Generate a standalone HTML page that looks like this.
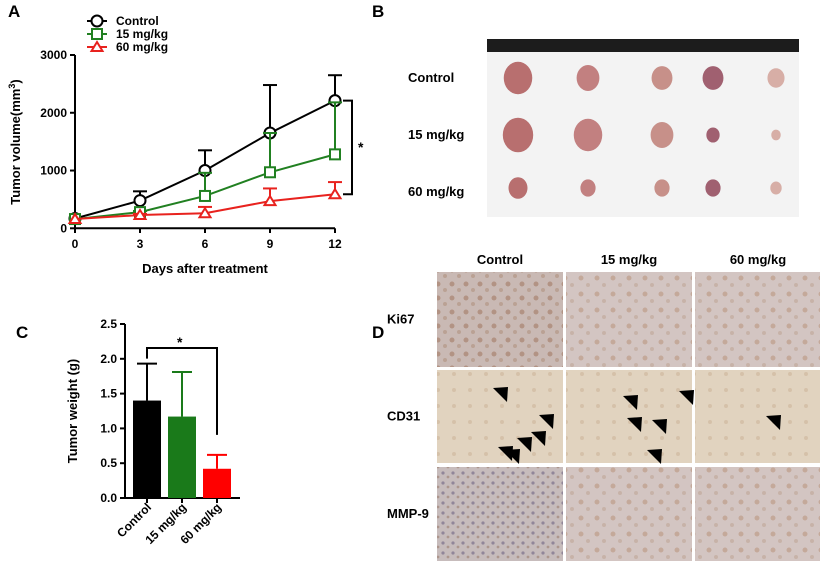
<!DOCTYPE html>
<html><head><meta charset="utf-8"><style>
body{margin:0;background:#fff;}
svg{display:block;font-family:"Liberation Sans",Arial,sans-serif;font-weight:bold;}
</style></head><body>
<svg id="fig" width="825" height="568" viewBox="0 0 825 568">
<defs>
<pattern id="texA" width="14" height="14" patternUnits="userSpaceOnUse"><rect width="14" height="14" fill="#c9b9b4"/><circle cx="4" cy="4" r="2.5" fill="#a88470" opacity="0.7"/><circle cx="11" cy="10" r="2" fill="#b0917f" opacity="0.6"/></pattern>
<pattern id="texB" width="16" height="16" patternUnits="userSpaceOnUse"><rect width="16" height="16" fill="#d3c5c2"/><circle cx="5" cy="6" r="2.5" fill="#b8927a" opacity="0.55"/><circle cx="12" cy="13" r="2" fill="#bba08e" opacity="0.5"/></pattern>
<pattern id="texC" width="16" height="16" patternUnits="userSpaceOnUse"><rect width="16" height="16" fill="#e1d3bf"/><circle cx="6" cy="6" r="2" fill="#cdb59b" opacity="0.6"/></pattern>
<pattern id="texD" width="10" height="10" patternUnits="userSpaceOnUse"><rect width="10" height="10" fill="#c7bcbc"/><circle cx="3" cy="3" r="1.6" fill="#6d6282" opacity="0.6"/><circle cx="8" cy="7" r="1.4" fill="#9b7d6e" opacity="0.6"/></pattern>
</defs>
<g id="panelA"></g>
<g id="panelB"></g>
<g id="panelC"></g>
<g id="panelD"></g>
</svg>
<script>
const days=[0,3,6,9,12];
const yTicksA=[0,1000,2000,3000];
const controlVol=[170,480,1000,1650,2210];
const controlErr=[170,640,1350,2480,2650];
const lowVol=[160,280,560,970,1280];
const lowErr=[160,300,960,1650,2180];
const highVol=[160,230,260,470,590];
const highErr=[160,250,370,690,800];
const groups=["Control","15 mg/kg","60 mg/kg"];
const weights=[1.4,1.17,0.42];
const weightErr=[1.93,1.81,0.62];
const yTicksC=[0.0,0.5,1.0,1.5,2.0,2.5];

const NS="http://www.w3.org/2000/svg";
function mk(tag,attrs,parent,text){const e=document.createElementNS(NS,tag);for(const k in attrs)e.setAttribute(k,attrs[k]);if(text!==undefined)e.textContent=text;parent.appendChild(e);return e;}

// Panel A
const A=document.getElementById('panelA');
const xA=d=>75+d*(260/12), yA=v=>228.3-v*(173.3/3000);
let t=mk('text',{x:8,y:17,'font-size':17},A,'A');


let ax=mk('path',{d:`M75 ${yA(3000)} V228.3 H335`,stroke:'#000','stroke-width':2,fill:'none'},A);


yTicksA.forEach(v=>{mk('line',{x1:70,x2:75,y1:yA(v),y2:yA(v),stroke:'#000','stroke-width':2},A);
 const l=mk('text',{x:67,y:yA(v)+4,'font-size':12,'text-anchor':'end'},A,v);
 
 });
days.forEach(d=>{mk('line',{x1:xA(d),x2:xA(d),y1:228.3,y2:233,stroke:'#000','stroke-width':2},A);
 const l=mk('text',{x:xA(d),y:248,'font-size':12,'text-anchor':'middle'},A,d);
 
 });
t=mk('text',{x:205,y:273,'font-size':13,'text-anchor':'middle'},A,'Days after treatment');


t=mk('text',{x:0,y:0,'font-size':13,'text-anchor':'middle',transform:'translate(20,142) rotate(-90)'},A);
t.innerHTML='Tumor volume(mm<tspan dy="-5" font-size="9">3</tspan><tspan dy="5">)</tspan>';


const series=[[controlVol,controlErr,'#000','circle','Control'],[lowVol,lowErr,'#218021','square','15 mg/kg'],[highVol,highErr,'#e8221e','tri','60 mg/kg']];
function marker(g,type,x,y,c){
 if(type==='circle')return mk('circle',{cx:x,cy:y,r:5.5,fill:'#fff',stroke:c,'stroke-width':2},g);
 if(type==='square')return mk('rect',{x:x-5,y:y-5,width:10,height:10,fill:'#fff',stroke:c,'stroke-width':2},g);
 return mk('path',{d:`M${x} ${y-5} L${x+5.5} ${y+4} L${x-5.5} ${y+4}Z`,fill:'#fff',stroke:c,'stroke-width':2},g);}
series.forEach((s,i)=>{
 const g=mk('g',{},A);
 
 
 days.forEach((d,j)=>{if(s[1][j]>s[0][j]+10){mk('line',{x1:xA(d),x2:xA(d),y1:yA(s[0][j]),y2:yA(s[1][j]),stroke:s[2],'stroke-width':2},g);
  mk('line',{x1:xA(d)-7,x2:xA(d)+7,y1:yA(s[1][j]),y2:yA(s[1][j]),stroke:s[2],'stroke-width':2},g);}});
 mk('polyline',{points:days.map((d,j)=>xA(d)+','+yA(s[0][j])).join(' '),fill:'none',stroke:s[2],'stroke-width':2},g);
 days.forEach((d,j)=>{const m=marker(g,s[3],xA(d),yA(s[0][j]),s[2]);
  
  });
 const lg=mk('g',{},A);
 
 
 const ly=21+i*13;
 mk('line',{x1:87,x2:107,y1:ly,y2:ly,stroke:s[2],'stroke-width':2},lg);
 marker(lg,s[3],97,ly,s[2]);
 mk('text',{x:116,y:ly+4,'font-size':12},lg,s[4]);
});
let br=mk('path',{d:`M343 ${yA(2210)} H352 V${yA(590)} H343`,fill:'none',stroke:'#000','stroke-width':2},A);


mk('text',{x:358,y:152,'font-size':14},A,'*');

// Panel B
const B=document.getElementById('panelB');
mk('text',{x:372,y:17,'font-size':17},B,'B');
let ph=mk('rect',{x:487,y:39,width:312,height:178,fill:'#f3f3f3'},B);


mk('rect',{x:487,y:39,width:312,height:13,fill:'#1c1c1c'},B);
["Control","15 mg/kg","60 mg/kg"].forEach((n,i)=>{const l=mk('text',{x:408,y:[78,135,192][i]+4,'font-size':13},B,n);
 
 });
const tx=[518,588,662,713,776], ty=[78,135,188];
const rad=[[15,12,11,11,9],[16,15,12,7,5],[10,8,8,8,6]];
rad.forEach((row,i)=>row.forEach((r,j)=>{const e=mk('ellipse',{cx:tx[j],cy:ty[i],rx:r*0.95,ry:r*1.08,fill:['#b86f6f','#c28080','#c79089','#a06070','#d7aea6'][j]},B);
 
 }));

// Panel C
const C=document.getElementById('panelC');
const yC=v=>498-v*(174/2.5);
mk('text',{x:16,y:338,'font-size':17},C,'C');
mk('path',{d:`M125 ${yC(2.5)} V498 H240`,stroke:'#000','stroke-width':2,fill:'none'},C);
yTicksC.forEach(v=>{mk('line',{x1:120,x2:125,y1:yC(v),y2:yC(v),stroke:'#000','stroke-width':2},C);
 mk('text',{x:117,y:yC(v)+4,'font-size':12,'text-anchor':'end'},C,v.toFixed(1));});
const cols=['#000','#1a7a1a','#f00'];
const bx=[147,182,217];
groups.forEach((g,i)=>{
 const b=mk('rect',{x:bx[i]-14,y:yC(weights[i]),width:28,height:498-yC(weights[i]),fill:cols[i]},C);
 
 
 mk('line',{x1:bx[i],x2:bx[i],y1:yC(weights[i]),y2:yC(weightErr[i]),stroke:cols[i],'stroke-width':2},C);
 mk('line',{x1:bx[i]-10,x2:bx[i]+10,y1:yC(weightErr[i]),y2:yC(weightErr[i]),stroke:cols[i],'stroke-width':2},C);
 mk('line',{x1:bx[i],x2:bx[i],y1:498,y2:503,stroke:'#000','stroke-width':2},C);
 const l=mk('text',{x:0,y:0,'font-size':12,'text-anchor':'end',transform:`translate(${bx[i]+5},508) rotate(-45)`},C,g);
 
 
});
mk('path',{d:`M147 ${yC(1.93)-5} V348 H217 V${yC(0.62)-20}`,fill:'none',stroke:'#000','stroke-width':2},C);
mk('text',{x:177,y:347,'font-size':14},C,'*');
t=mk('text',{x:0,y:0,'font-size':13,'text-anchor':'middle',transform:'translate(77,411) rotate(-90)'},C,'Tumor weight (g)');



// Panel D
const D=document.getElementById('panelD');
mk('text',{x:372,y:338,'font-size':17},D,'D');
const cx=[437,566,695], cw=[126,126,125], ry=[272,370,467], rh=[95,93,94];
["Control","15 mg/kg","60 mg/kg"].forEach((n,i)=>mk('text',{x:cx[i]+63,y:264,'font-size':13,'text-anchor':'middle'},D,n));
["Ki67","CD31","MMP-9"].forEach((n,i)=>mk('text',{x:387,y:ry[i]+rh[i]/2+4,'font-size':13},D,n));
const fills=[['url(#texA)','url(#texB)','url(#texB)'],['url(#texC)','url(#texC)','url(#texC)'],['url(#texD)','url(#texB)','url(#texB)']];
for(let r=0;r<3;r++)for(let c=0;c<3;c++){const e=mk('rect',{x:cx[c],y:ry[r],width:cw[c],height:rh[r],fill:fills[r][c]},D);
 
 }
const arrows=[[500,394],[546,421],[524,444],[512,456],[538,438],[505,453],[630,402],[686,397],[634,424],[659,426],[654,456],[773,422]];
arrows.forEach(a=>mk('path',{d:`M${a[0]-7} ${a[1]-6} L${a[0]+8} ${a[1]-7} L${a[0]+7} ${a[1]+8} Z`,fill:'#000'},D));
</script>
</body></html>
